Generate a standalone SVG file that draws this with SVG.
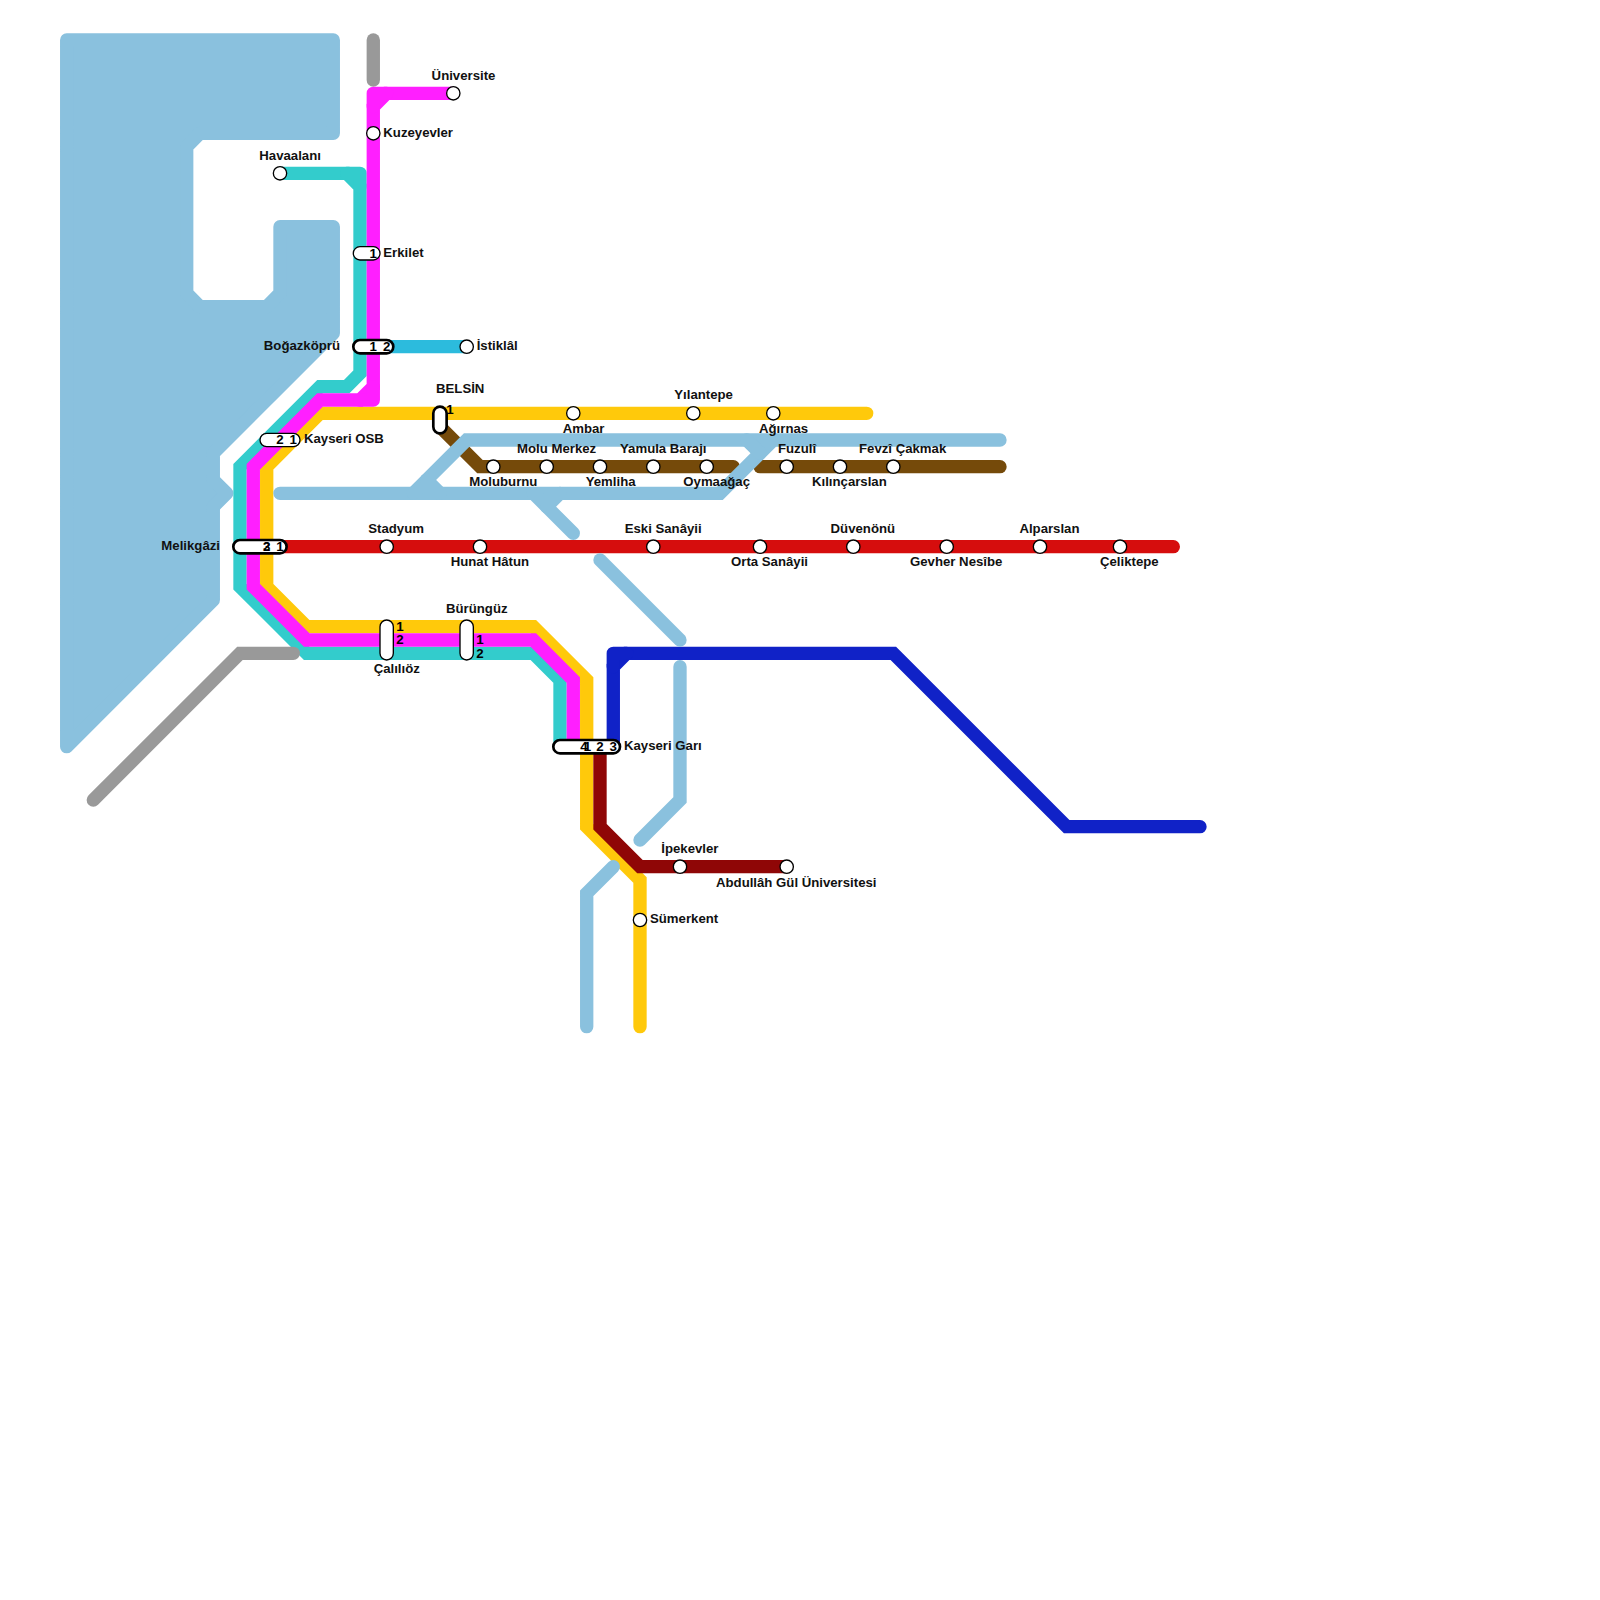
<svg xmlns="http://www.w3.org/2000/svg" width="1600" height="1600" viewBox="0 0 1600 1600">
<defs>
<style>
text{font-family:"Liberation Sans",Arial,sans-serif;font-weight:bold;font-size:13.2px;fill:#111}
.e{text-anchor:end}
.n{font-size:13.33px;text-anchor:middle;fill:#000}
.l{fill:none;stroke-width:13.33;stroke-linecap:round;stroke-linejoin:miter}
.r{stroke-linejoin:round}
.water{stroke:#8ac1de}
.turq{stroke:#33cccc}
.mag{stroke:#ff1fff}
.yel{stroke:#ffc90b}
.red{stroke:#d60d0d}
.cya{stroke:#2cbbdd}
.bro{stroke:#754a0a}
.dre{stroke:#8f0606}
.blu{stroke:#1022c7}
.gry{stroke:#999999}
.st{fill:#fff;stroke:#000;stroke-width:1.33}
.th{stroke-width:2.67}
</style>
</defs>
<path id="water" d="M66.7,40H333.3V133.3H200L186.7,146.7V293.3L200,306.7H266.7L280,293.3V226.7H333.3V333.3L213.3,453.3V480L226.7,493.3L213.3,506.7V600L66.7,746.7Z" fill="#8ac1de" stroke="#8ac1de" stroke-width="13.33" stroke-linejoin="round"/>
<g id="connectors">
<path class="l gry" d="M373.3,40V80"/>
<path class="l cya" d="M386.7,346.7H466.7"/>
<path class="l turq" d="M280,173.3H346.7L360,186.7V373.3L346.7,386.7H320L240,466.7V586.7L306.7,653.3H533.3L560,680V746.7"/>
<path class="l r turq" d="M346.7,173.3H360V186.7"/>
<path class="l gry" d="M293.3,653.3H240L93.3,800"/>
<path class="l yel" d="M866.7,413.3H320L266.7,466.7V586.7L306.7,626.7H533.3L586.7,680V826.7L640,880V1026.7"/>
<path class="l mag" d="M453.3,93.3H386.7L373.3,106.7V386.7L360,400H320L253.3,466.7V586.7L306.7,640H533.3L573.3,680V746.7"/>
<path class="l r mag" d="M386.7,93.3H373.3V106.7"/>
<path class="l r mag" d="M373.3,386.7V400H360"/>
<path class="l red" d="M280,546.7H1173.3"/>
<path class="l bro" d="M440,426.7L480,466.7H733.3"/>
<path class="l bro" d="M760,466.7H1000"/>
<path class="l dre" d="M600,746.7V826.7L640,866.7H786.7"/>
<path class="l blu" d="M613.3,746.7V666.7L626.7,653.3H893.3L1066.7,826.7H1200"/>
<path class="l r blu" d="M613.3,666.7V653.3H626.7"/>
<path class="l water" d="M280,493.3H720L773.3,440"/>
<path class="l water" d="M1000,440H466.7L413.3,493.3"/>
<path class="l water" d="M426.7,480L440,493.3"/>
<path class="l water" d="M533.3,493.3L573.3,533.3"/>
<path class="l water" d="M546.7,506.7L560,493.3"/>
<path class="l water" d="M746.7,440L760,453.3"/>
<path class="l water" d="M600,560L680,640"/>
<path class="l water" d="M680,666.7V800L640,840"/>
<path class="l water" d="M613.3,866.7L586.7,893.3V1026.7"/>
</g>
<g id="universite"><circle class="st" cx="453.3" cy="93.3" r="6.67"/><text x="463.5" y="80" text-anchor="middle">Üniversite</text></g>
<g id="kuzeyevler"><circle class="st" cx="373.3" cy="133.3" r="6.67"/><text x="383.3" y="137">Kuzeyevler</text></g>
<g id="havaalani"><circle class="st" cx="280" cy="173.3" r="6.67"/><text x="259.3" y="160">Havaalanı</text></g>
<g id="erkilet"><rect class="st" x="353.3" y="246.7" width="26.7" height="13.33" rx="6.67"/><text class="n" x="373.3" y="257.5">1</text><text x="383.3" y="257">Erkilet</text></g>
<g id="bogazkopru"><rect class="st th" x="353.3" y="340" width="40" height="13.33" rx="6.67"/><text class="n" x="373.3" y="351">1</text><text class="n" x="386.7" y="351">2</text><text class="e" x="340" y="350">Boğazköprü</text></g>
<g id="istiklal"><circle class="st" cx="466.7" cy="346.7" r="6.67"/><text x="476.7" y="350">İstiklâl</text></g>
<g id="belsin"><rect class="st th" x="433.3" y="406.7" width="13.33" height="26.7" rx="6.67"/><text class="n" x="450" y="414">1</text><text x="436" y="392.7">BELSİN</text></g>
<g id="kayseri-osb"><rect class="st" x="260" y="433.3" width="40" height="13.33" rx="6.67"/><text class="n" x="280" y="444">2</text><text class="n" x="293.3" y="444">1</text><text x="304" y="443">Kayseri OSB</text></g>
<g id="ambar"><circle class="st" cx="573.3" cy="413.3" r="6.67"/><text x="562.7" y="432.7">Ambar</text></g>
<g id="yilantepe"><circle class="st" cx="693.3" cy="413.3" r="6.67"/><text x="674.3" y="399.3">Yılantepe</text></g>
<g id="agirnas"><circle class="st" cx="773.3" cy="413.3" r="6.67"/><text x="759" y="432.7">Ağırnas</text></g>
<g id="moluburnu"><circle class="st" cx="493.3" cy="466.7" r="6.67"/><text x="469.3" y="486">Moluburnu</text></g>
<g id="molu-merkez"><circle class="st" cx="546.7" cy="466.7" r="6.67"/><text x="517" y="452.7">Molu Merkez</text></g>
<g id="yemliha"><circle class="st" cx="600" cy="466.7" r="6.67"/><text x="585.7" y="486">Yemliha</text></g>
<g id="yamula-baraji"><circle class="st" cx="653.3" cy="466.7" r="6.67"/><text x="620" y="452.7">Yamula Barajı</text></g>
<g id="oymaagac"><circle class="st" cx="706.7" cy="466.7" r="6.67"/><text x="683.3" y="486">Oymaağaç</text></g>
<g id="fuzuli"><circle class="st" cx="786.7" cy="466.7" r="6.67"/><text x="778" y="452.7">Fuzulî</text></g>
<g id="kilincarslan"><circle class="st" cx="840" cy="466.7" r="6.67"/><text x="812" y="486">Kılınçarslan</text></g>
<g id="fevzi-cakmak"><circle class="st" cx="893.3" cy="466.7" r="6.67"/><text x="859" y="452.7">Fevzî Çakmak</text></g>
<g id="melikgazi"><rect class="st th" x="233.3" y="540" width="53.3" height="13.33" rx="6.67"/><text class="n" x="266.7" y="551">3</text><text class="n" x="266.7" y="551">2</text><text class="n" x="280" y="551">1</text><text class="e" x="220" y="550">Melikgâzi</text></g>
<g id="stadyum"><circle class="st" cx="386.7" cy="546.7" r="6.67"/><text x="368.3" y="532.7">Stadyum</text></g>
<g id="hunat-hatun"><circle class="st" cx="480" cy="546.7" r="6.67"/><text x="450.7" y="566">Hunat Hâtun</text></g>
<g id="eski-sanayii"><circle class="st" cx="653.3" cy="546.7" r="6.67"/><text x="624.7" y="532.7">Eski Sanâyii</text></g>
<g id="orta-sanayii"><circle class="st" cx="760" cy="546.7" r="6.67"/><text x="731" y="566">Orta Sanâyii</text></g>
<g id="duvenonu"><circle class="st" cx="853.3" cy="546.7" r="6.67"/><text x="830.6" y="532.7">Düvenönü</text></g>
<g id="gevher-nesibe"><circle class="st" cx="946.7" cy="546.7" r="6.67"/><text x="910" y="566">Gevher Nesîbe</text></g>
<g id="alparslan"><circle class="st" cx="1040" cy="546.7" r="6.67"/><text x="1019.4" y="532.7">Alparslan</text></g>
<g id="celiktepe"><circle class="st" cx="1120" cy="546.7" r="6.67"/><text x="1100" y="566">Çeliktepe</text></g>
<g id="caliliöz"><rect class="st" x="380" y="620" width="13.33" height="40" rx="6.67"/><text class="n" x="400" y="630.5">1</text><text class="n" x="400" y="644">2</text><text x="373.7" y="672.7">Çalılıöz</text></g>
<g id="burunguz"><rect class="st" x="460" y="620" width="13.33" height="40" rx="6.67"/><text class="n" x="480" y="644">1</text><text class="n" x="480" y="657.5">2</text><text x="446" y="612.7">Bürüngüz</text></g>
<g id="kayseri-gari"><rect class="st th" x="553.3" y="740" width="66.7" height="13.33" rx="6.67"/><text class="n" x="584" y="751">4</text><text class="n" x="587.5" y="751">1</text><text class="n" x="600" y="751">2</text><text class="n" x="613.3" y="751">3</text><text x="624" y="750">Kayseri Garı</text></g>
<g id="ipekevler"><circle class="st" cx="680" cy="866.7" r="6.67"/><text x="661.3" y="853">İpekevler</text></g>
<g id="abdullah-gul"><circle class="st" cx="786.7" cy="866.7" r="6.67"/><text x="716" y="886.7">Abdullâh Gül Üniversitesi</text></g>
<g id="sumerkent"><circle class="st" cx="640" cy="920" r="6.67"/><text x="650" y="923">Sümerkent</text></g>
</svg>
